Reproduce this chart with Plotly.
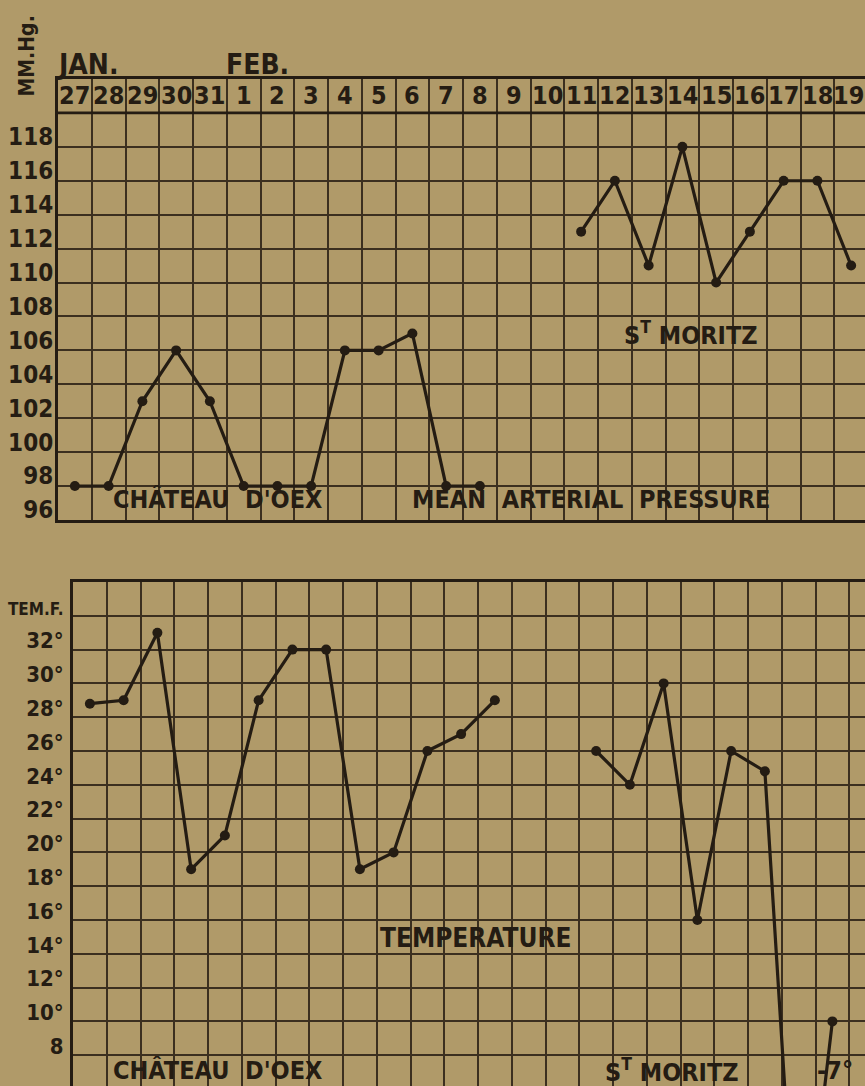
import plotly.graph_objects as go

# ---------------- data ----------------
DATES = ["27", "28", "29", "30", "31", "1", "2", "3", "4", "5", "6", "7",
         "8", "9", "10", "11", "12", "13", "14", "15", "16", "17", "18", "19"]

CHATEAU_BP_DATES = ["27", "28", "29", "30", "31", "1", "2", "3", "4", "5", "6", "7", "8"]
CHATEAU_BP = [98, 98, 103, 106, 103, 98, 98, 98, 106, 106, 107, 98, 98]
MORITZ_BP_DATES = ["11", "12", "13", "14", "15", "16", "17", "18", "19"]
MORITZ_BP = [113, 116, 111, 118, 110, 113, 116, 116, 111]

CHATEAU_T_DATES = ["27", "28", "29", "30", "31", "1", "2", "3", "4", "5", "6", "7", "8"]
CHATEAU_T = [28.8, 29, 33, 19, 21, 29, 32, 32, 19, 20, 26, 27, 29]
MORITZ_T_DATES = ["11", "12", "13", "14", "15", "16", "17", "18"]
MORITZ_T = [26, 24, 30, 16, 26, 24.8, -7, 10]

BP_TICKS = [96, 98, 100, 102, 104, 106, 108, 110, 112, 114, 116, 118, 120]
BP_TICKTEXT = ["96", "98", "100", "102", "104", "106", "108", "110", "112",
               "114", "116", "118", " "]
T_TICKS = [8, 10, 12, 14, 16, 18, 20, 22, 24, 26, 28, 30, 32, 34]
T_TICKTEXT = ["8", "10°", "12°", "14°", "16°", "18°", "20°", "22°", "24°",
              "26°", "28°", "30°", "32°",
              "<span style='font-size:17px'>TEM.F.</span>"]

# ---------------- style ----------------
W, H = 865, 1086
BG = "#b09a69"
INK = "#241c13"
GRID = "#3b2f1f"
FONT = "Liberation Sans Narrow, DejaVu Sans Condensed, Roboto Condensed, Liberation Sans, sans-serif"

fig = go.Figure()
line_style = dict(color=INK, width=3.2)
marker_style = dict(color=INK, size=10)

for xs, ys, xa, ya in [(CHATEAU_BP_DATES, CHATEAU_BP, "x", "y"),
                       (MORITZ_BP_DATES, MORITZ_BP, "x", "y"),
                       (CHATEAU_T_DATES, CHATEAU_T, "x2", "y2"),
                       (MORITZ_T_DATES, MORITZ_T, "x2", "y2")]:
    fig.add_trace(go.Scatter(x=xs, y=ys, mode="lines+markers", line=line_style,
                             marker=marker_style, xaxis=xa, yaxis=ya,
                             showlegend=False, cliponaxis=True, hoverinfo="x+y"))

COLW = 33.75
top_left, bot_left = 58, 73

common_x = dict(type="category", categoryarray=DATES, categoryorder="array",
                tickson="boundaries", showgrid=True, gridcolor=GRID, gridwidth=1.8,
                showticklabels=False, ticks="", ticklen=0, zeroline=False,
                linecolor=INK, linewidth=3, automargin=False)

fig.update_layout(
    width=W, height=H,
    margin=dict(l=0, r=0, t=0, b=0, pad=0),
    paper_bgcolor=BG, plot_bgcolor=BG,
    font=dict(family=FONT, color=INK),
    xaxis=dict(domain=[top_left / W, 1],
               range=[-0.5, -0.5 + (W - top_left) / COLW],
               showline=True, mirror=True, side="top", anchor="y", **common_x),
    yaxis=dict(domain=[(H - 520) / H, (H - 79) / H], range=[96, 122],
               tickmode="array", tickvals=BP_TICKS, ticktext=BP_TICKTEXT,
               showgrid=True, gridcolor=GRID, gridwidth=1.8, zeroline=False,
               showline=True, mirror=True, linecolor=INK, linewidth=3,
               ticks="", ticklen=0, ticklabelstandoff=-3, ticklabelshift=-10,
               tickfont=dict(size=24, family=FONT, weight="bold", color=INK),
               automargin=False, anchor="x"),
    xaxis2=dict(domain=[bot_left / W, 1],
                range=[-0.5, -0.5 + (W - bot_left) / COLW],
                showline=True, mirror=False, side="top", anchor="y2", **common_x),
    yaxis2=dict(domain=[0, (H - 582) / H], range=[36 - (H - 582) / 16.9, 36],
                tickmode="array", tickvals=T_TICKS, ticktext=T_TICKTEXT,
                showgrid=True, gridcolor=GRID, gridwidth=1.8, zeroline=False,
                showline=True, mirror=False, linecolor=INK, linewidth=3,
                ticks="", ticklen=0, ticklabelstandoff=2, ticklabelshift=-9,
                tickfont=dict(size=22, family=FONT, weight="bold", color=INK),
                automargin=False, anchor="x2"),
)

# heavier rule under the date row
fig.add_shape(type="line", xref="x domain", yref="y", x0=0, x1=1, y0=120, y1=120,
              line=dict(color=INK, width=2.6))

ann = []
bold = dict(family=FONT, color=INK, weight="bold")
for i, d in enumerate(DATES):
    ann.append(dict(x=i, y=121, xref="x", yref="y", text=d, showarrow=False,
                    xshift=-3 if i == len(DATES) - 1 else 0,
                    font=dict(size=25, **bold)))
ann += [
    dict(x=-0.5, y=122, xref="x", yref="y", text="<u>JAN.</u>", showarrow=False,
         xanchor="left", yanchor="bottom", xshift=-3, yshift=-4,
         font=dict(size=28, **bold)),
    dict(x=4.5, y=122, xref="x", yref="y", text="FEB.", showarrow=False,
         xanchor="left", yanchor="bottom", xshift=-3, yshift=-4,
         font=dict(size=28, **bold)),
    dict(x=27 / W, y=1 - 14 / H, xref="paper", yref="paper", text="MM.Hg.",
         textangle=-90, showarrow=False, xanchor="center", yanchor="top",
         font=dict(size=21, **bold)),
    dict(x=4.24, y=97.2, xref="x", yref="y", text="CHÂTEAU  D'OEX", showarrow=False,
         font=dict(size=25, **bold)),
    dict(x=15.29, y=97.2, xref="x", yref="y", text="MEAN  ARTERIAL  PRESSURE",
         showarrow=False, font=dict(size=25, **bold)),
    dict(x=18.26, y=107.0, xref="x", yref="y", text="S<sup>T</sup> MORITZ",
         showarrow=False, font=dict(size=25, **bold)),
    dict(x=11.43, y=14.93, xref="x2", yref="y2", text="TEMPERATURE", showarrow=False,
         font=dict(size=26, **bold)),
    dict(x=3.77, y=7.07, xref="x2", yref="y2", text="CHÂTEAU  D'OEX", showarrow=False,
         font=dict(size=25, **bold)),
    dict(x=17.24, y=7.07, xref="x2", yref="y2", text="S<sup>T</sup> MORITZ",
         showarrow=False, font=dict(size=25, **bold)),
    dict(x=22.08, y=7.07, xref="x2", yref="y2", text="-7°", showarrow=False,
         font=dict(size=25, **bold)),
]
fig.update_layout(annotations=ann)

post = ("document.documentElement.style.margin='0';"
        "document.body.style.margin='0';"
        "document.documentElement.style.overflow='hidden';"
        "document.body.style.overflow='hidden';")

fig.write_html("out.html", post_script=post, config={"displayModeBar": False})
